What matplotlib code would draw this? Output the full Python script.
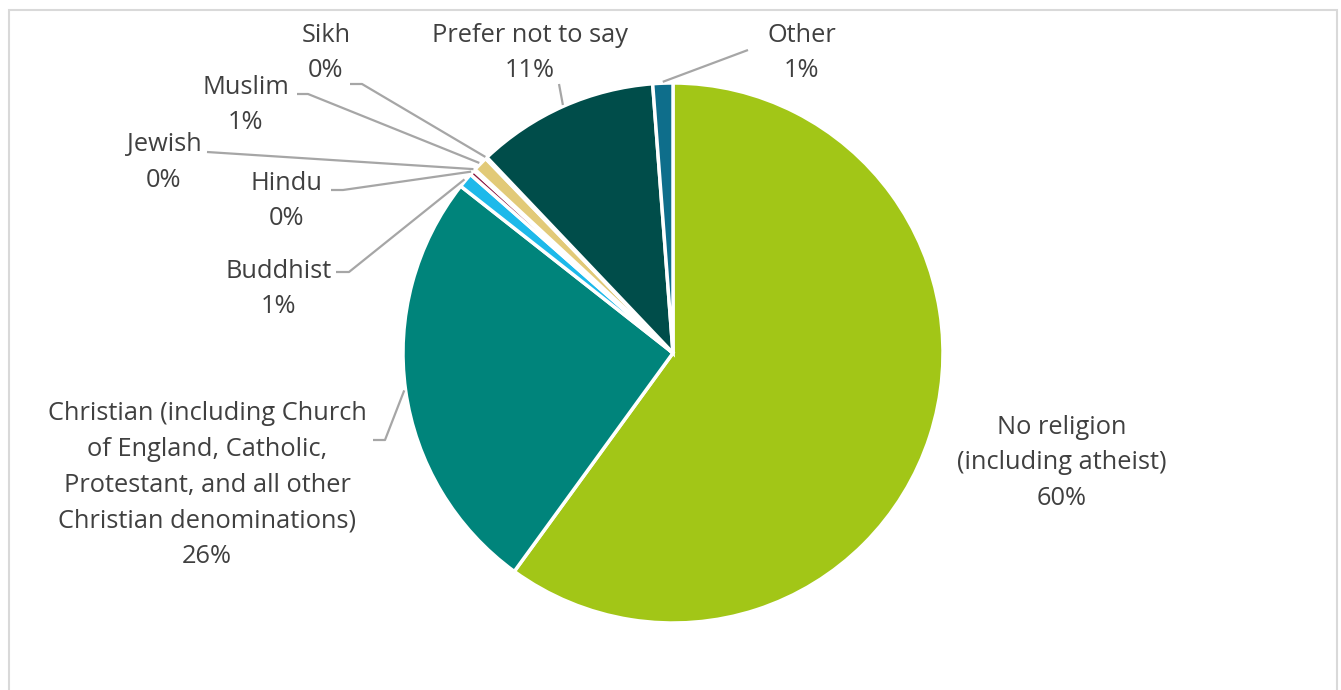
import numpy as np
import matplotlib.pyplot as plt
from matplotlib.patches import Rectangle

# DATA
labels = ['No religion\n(including atheist)',
          'Christian (including Church\nof England, Catholic,\nProtestant, and all other\nChristian denominations)',
          'Buddhist', 'Hindu', 'Jewish', 'Muslim', 'Sikh',
          'Prefer not to say', 'Other']
values = [60.0, 25.6, 0.9, 0.3, 0.1, 0.9, 0.1, 10.9, 1.2]
colors = ['#A2C617', '#00847B', '#1DB9EA', '#8A1B45', '#D9B3C4',
          '#E2CA78', '#B9CDE5', '#004D4A', '#0E6E8B']

# label layout, image pixels (text centre x, first line y) + leader elbow
label_pos = {
    'No religion\n(including atheist)': (1062, 427, None),
    'Christian (including Church\nof England, Catholic,\nProtestant, and all other\nChristian denominations)': (207, 414, (373, 440, 385)),
    'Buddhist': (279, 271, (336, 272, 349)),
    'Hindu': (287, 183, (331, 190, 343)),
    'Jewish': (164, 145, (207, 152, 207)),
    'Muslim': (246, 87, (297, 94, 308)),
    'Sikh': (326, 35, (350, 84, 362)),
    'Prefer not to say': (530, 35, (559, 84, 559)),
    'Other': (802, 35, (748, 50, 748)),
}

W, H = 1341, 690
CX, CY, R = 673, 353, 270
TXT = '#404040'
LINE = '#A6A6A6'
FS = 18.3
LS = 35.7  # line step in px

fig = plt.figure(figsize=(W / 100, H / 100), dpi=100)
ax = fig.add_axes([0, 0, 1, 1])
ax.set_xlim(0, W)
ax.set_ylim(0, H)
ax.axis('off')

wedges, _ = ax.pie(values, colors=colors, startangle=90, counterclock=False,
                   center=(CX, H - CY), radius=R,
                   wedgeprops=dict(edgecolor='white', linewidth=2.5))
ax.set_xlim(0, W)
ax.set_ylim(0, H)

for w, lab, v in zip(wedges, labels, values):
    tx, ty, elbow = label_pos[lab]
    lines = lab.split('\n') + [f'{v:.0f}%']
    for i, s in enumerate(lines):
        ax.text(tx, H - (ty + i * LS), s, ha='center', va='center',
                fontsize=FS, color=TXT, family=['Open Sans', 'DejaVu Sans'])
    if elbow is None:
        continue
    ex, ey, ex2 = elbow
    ang = np.deg2rad((w.theta1 + w.theta2) / 2)
    px = CX + R * 1.005 * np.cos(ang)
    py = (H - CY) + R * 1.005 * np.sin(ang)
    ax.plot([ex, ex2, px], [H - ey, H - ey, py], color=LINE, lw=1.6,
            solid_capstyle='butt')

ax.add_patch(Rectangle((9.5, -5), 1327.5, H - 10 + 5, fill=False,
                       edgecolor='#D9D9D9', lw=1.5))

fig.savefig('out.png', dpi=100)
